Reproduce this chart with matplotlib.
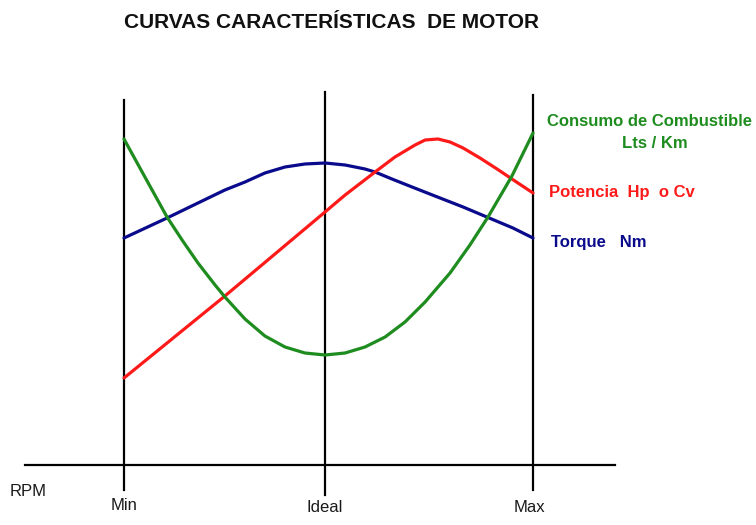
import matplotlib
matplotlib.use("Agg")
from matplotlib import pyplot as plt

# RPM positions (schematic units) and their labels
rpm_pos = [1.0, 2.0, 3.035]
rpm_labels = ['Min', 'Ideal', 'Max']

# fuel consumption (Lts / Km)
fuel_x = [1.0, 1.104, 1.214, 1.289, 1.368, 1.453, 1.502, 1.602, 1.701, 1.801, 1.900, 2.0,
          2.100, 2.199, 2.299, 2.398, 2.498, 2.622, 2.721, 2.811, 2.930, 3.035]
fuel_y = [3.26, 2.88, 2.48, 2.25, 2.02, 1.80, 1.68, 1.46, 1.29, 1.18, 1.12, 1.10,
          1.12, 1.18, 1.28, 1.43, 1.63, 1.92, 2.20, 2.48, 2.89, 3.32]

# power (Hp o Cv)
power_x = [1.0, 1.502, 2.0, 2.100, 2.249, 2.348, 2.448, 2.498, 2.562, 2.622, 2.687,
           2.771, 2.856, 2.930, 3.035]
power_y = [0.87, 1.69, 2.53, 2.70, 2.93, 3.08, 3.20, 3.25, 3.26, 3.23, 3.17,
           3.07, 2.96, 2.86, 2.72]

# torque (Nm)
torque_x = [1.0, 1.214, 1.368, 1.502, 1.602, 1.701, 1.801, 1.900, 2.0, 2.100, 2.199,
            2.249, 2.333, 2.433, 2.547, 2.687, 2.811, 2.935, 3.035]
torque_y = [2.27, 2.47, 2.62, 2.75, 2.83, 2.92, 2.98, 3.01, 3.02, 3.00, 2.96,
            2.93, 2.86, 2.78, 2.69, 2.58, 2.475, 2.37, 2.27]

GREEN = '#1e8c1e'
RED = '#ff1a1a'
NAVY = '#0a0a8c'

W, H = 756, 525
fig = plt.figure(figsize=(W / 100, H / 100), dpi=100)
ax = fig.add_axes([0, 0, 1, 1])
ax.set_xlim(1 - 124 / 201, 1 + (W - 124) / 201)
ax.set_ylim(-0.6, 4.65)
ax.axis('off')

# axes of the sketch
ax.plot([0.507, 3.443], [0, 0], color='black', lw=1.6)
ax.plot([0.358, 0.358], [3.9, -0.6], color='black', lw=1.6)
ax.plot([rpm_pos[0]] * 2, [3.65, -0.25], color='black', lw=1.6)
ax.plot([rpm_pos[1]] * 2, [3.73, -0.30], color='black', lw=1.6)
ax.plot([rpm_pos[2]] * 2, [3.70, -0.25], color='black', lw=1.6)

style = dict(lw=2.3, solid_capstyle='round', solid_joinstyle='round')
ax.plot(torque_x, torque_y, color=NAVY, **style)
ax.plot(power_x, power_y, color=RED, **style)
ax.plot(fuel_x, fuel_y, color=GREEN, **style)

font = 'Liberation Sans'
ax.text(0.522, -0.27, 'RPM', ha='center', va='center', fontsize=12, family=font, color='#1a1a1a')
for x, lab, dy in zip(rpm_pos, rpm_labels, [-0.40, -0.43, -0.43]):
    ax.text(x - (0.02 if lab == 'Max' else 0), dy, lab, ha='center', va='center',
            fontsize=12, family=font, color='#1a1a1a')

ax.text(3.105, 3.43, 'Consumo de Combustible', color=GREEN, fontsize=12, family=font,
        weight='bold', ha='left', va='center')
ax.text(3.64, 3.22, 'Lts / Km', color=GREEN, fontsize=12, family=font,
        weight='bold', ha='center', va='center')
ax.text(3.115, 2.73, 'Potencia  Hp  o Cv', color=RED, fontsize=12, family=font,
        weight='bold', ha='left', va='center')
ax.text(3.125, 2.23, 'Torque   Nm', color=NAVY, fontsize=12, family=font,
        weight='bold', ha='left', va='center')

fig.text(331 / W, 1 - 22 / H, 'CURVAS CARACTERÍSTICAS  DE MOTOR', ha='center', va='center',
         fontsize=15, family=font, weight='bold', color='#111111')

fig.savefig('out.png', dpi=100)
